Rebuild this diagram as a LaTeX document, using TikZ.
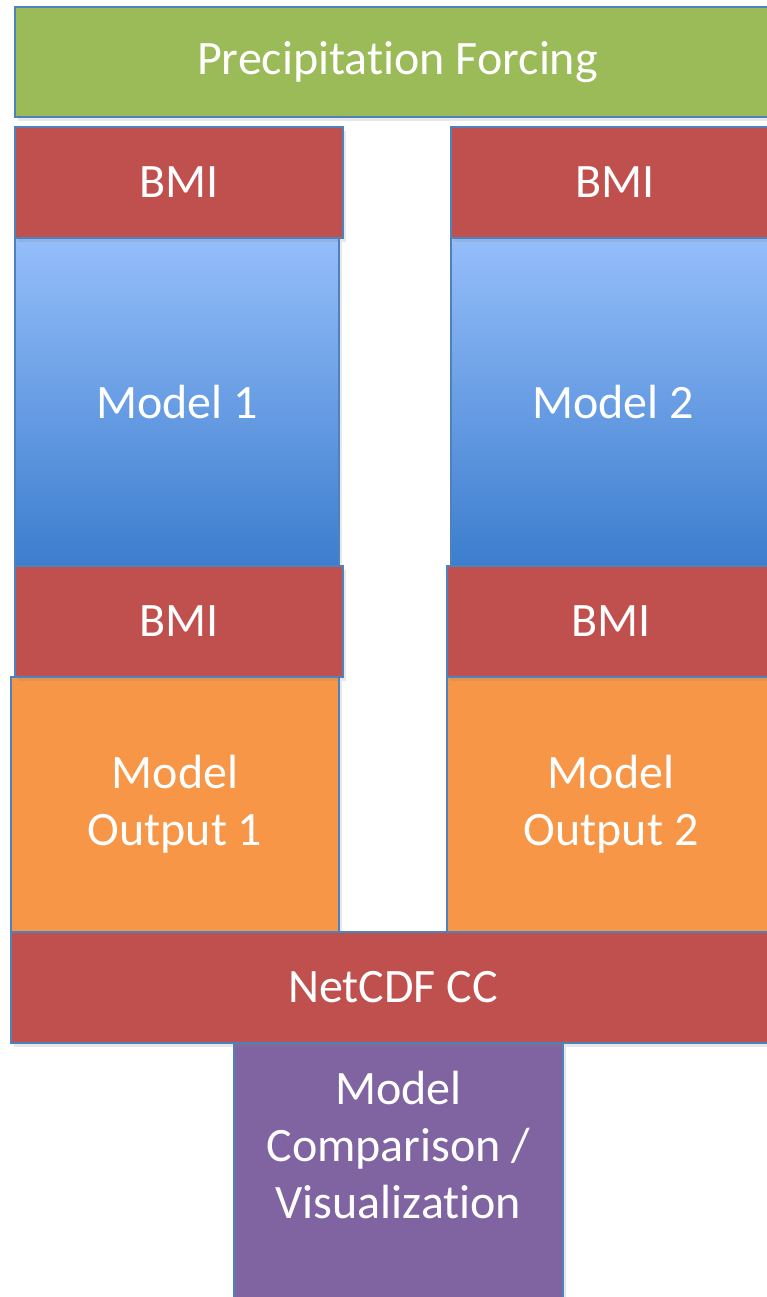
\documentclass[tikz,border=0pt]{standalone}
\usepackage{fontspec}
\setmainfont{Carlito}[RawFeature={-liga;-clig;-calt;-dlig}]
\usetikzlibrary{shadows}

\definecolor{forcegreen}{HTML}{9BBB59}
\definecolor{bmired}{HTML}{C0504D}
\definecolor{edgeblue}{HTML}{4F81BD}
\definecolor{modeltop}{HTML}{95BEFA}
\definecolor{modelmid}{HTML}{75A6EC}
\definecolor{modelbot}{HTML}{3C7DCE}
\definecolor{outorange}{HTML}{F79646}
\definecolor{cmppurple}{HTML}{8064A2}

\tikzstyle{layer} = [rectangle, draw=edgeblue, line width=1.5pt, anchor=north west, inner sep=0pt, outer sep=0pt, text=white, font=\fontsize{48}{57}\selectfont, align=center, drop shadow={opacity=0.18, shadow xshift=3pt, shadow yshift=-4pt}]
\tikzstyle{bmi} = [layer, fill=bmired]
\tikzstyle{model} = [layer, top color=modeltop, middle color=modelmid, bottom color=modelbot]
\tikzstyle{output} = [layer, fill=outorange]

\begin{document}
\begin{tikzpicture}[x=1pt, y=-1pt]
	\useasboundingbox (0,0) rectangle (767,1297);
	\clip (0,0) rectangle (767,1297);
	\node[layer, fill=forcegreen, minimum width=765pt, minimum height=110pt] (forcing) at (15,7) {Precipitation Forcing};
	% models and their BMI wrappers
	\node[model, minimum width=324pt, minimum height=328pt] (model1) at (15,238) {Model 1};
	\node[model, minimum width=324pt, minimum height=328pt] (model2) at (451,238) {Model 2};
	\node[bmi, minimum width=328pt, minimum height=111pt] (bmiin1) at (15,127) {BMI};
	\node[bmi, minimum width=328pt, minimum height=111pt] (bmiin2) at (451,127) {BMI};
	\node[output, minimum width=328pt, minimum height=255pt] (out1) at (11,677) {Model\\Output 1};
	\node[output, minimum width=328pt, minimum height=255pt] (out2) at (447,677) {Model\\Output 2};
	\node[bmi, minimum width=328pt, minimum height=111pt] (bmiout1) at (15,566) {BMI};
	\node[bmi, minimum width=328pt, minimum height=111pt] (bmiout2) at (447,566) {BMI};
	% comparison
	\node[layer, fill=cmppurple, minimum width=329pt, minimum height=260pt, label={[text=white, font=\fontsize{48}{57}\selectfont, align=center, yshift=28pt]center:{Model\\Comparison /\\Visualization}}] (compare) at (234,1043) {};
	\node[bmi, minimum width=764pt, minimum height=111pt] (netcdf) at (11,932) {NetCDF CC};
\end{tikzpicture}
\end{document}
